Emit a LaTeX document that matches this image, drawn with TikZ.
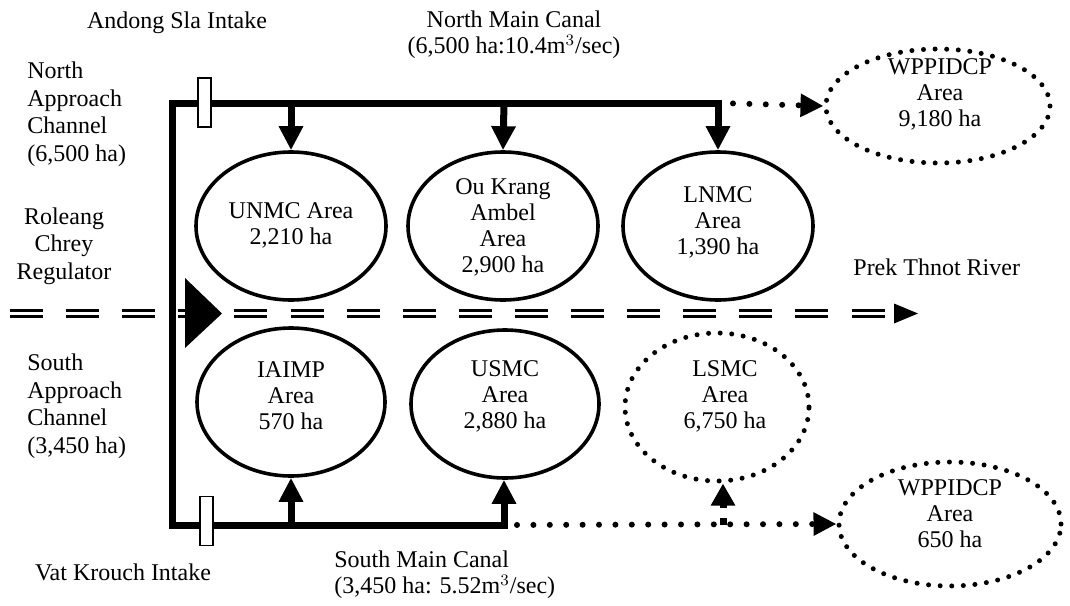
\documentclass[tikz,border=0pt]{standalone}
\usepackage{fontspec}
\setmainfont{Liberation Serif}
\usetikzlibrary{arrows.meta,shapes.geometric}
\tikzset{
  txt/.style={font=\fontsize{12}{13}\selectfont, inner sep=0pt, align=center},
  sidetxt/.style={font=\fontsize{12}{13.75}\selectfont, inner sep=0pt},
  canal/.style={line width=3.5pt, line cap=rect},
  feed/.style={line width=3.5pt, -{Triangle[length=12pt,width=11.5pt]}},
  dashfeed/.style={line width=3.5pt, dash pattern=on 3.5pt off 5pt, -{Triangle[length=11pt,width=11.5pt]}},
  dotflow/.style={line width=3pt, line cap=round, dash pattern=on 0pt off 8.2pt, -{Triangle[length=11.5pt,width=11pt]}},
  area/.style={ellipse, draw, line width=1.8pt, inner sep=0pt},
  dotarea/.style={ellipse, draw, line width=2.5pt, line cap=round, dash pattern=on 0pt off 5.8pt, inner sep=0pt},
  gate/.style={draw, fill=white, line width=0.8pt, minimum width=6.5pt, minimum height=24.5pt, inner sep=0pt},
  river/.style={line width=1.5pt, double distance=1.5pt, dash pattern=on 16.5pt off 11.55pt}
}
\begin{document}
\begin{tikzpicture}[x=0.5pt,y=0.5pt,yscale=-1,xscale=1]
  \useasboundingbox (0,0) rectangle (1070,605);

  % fork points on the canals
  \coordinate (nfork1) at (291,103);
  \coordinate (nfork2) at (504,103);
  \coordinate (nfork3) at (718,103);
  \coordinate (ncorner) at (172,103);
  \coordinate (scorner) at (172,525);
  \coordinate (sfork1) at (291,525);
  \coordinate (sfork2) at (504,525);
  \coordinate (sfork3) at (723,525);

  %Shape: Ellipse areas
  \node (unmc) [area, minimum width=95pt, minimum height=74pt] at (291,226) {};
  \node (oukrang) [area, minimum width=95pt, minimum height=74pt] at (503,226) {};
  \node (lnmc) [area, minimum width=95pt, minimum height=74pt] at (718,226) {};
  \node (iaimp) [area, minimum width=94pt, minimum height=74pt] at (291,402) {};
  \node (usmc) [area, minimum width=94pt, minimum height=74pt] at (505,404) {};
  \node (lsmc) [dotarea, minimum width=92pt, minimum height=74pt] at (717,407) {};
  \node (wppn) [dotarea, minimum width=112pt, minimum height=57pt] at (938,106) {};
  \node (wpps) [dotarea, minimum width=111pt, minimum height=62pt] at (950,524) {};

  % Text Node
  \node (unmctxt) [txt] at (291,225) {UNMC Area\\2,210 ha};
  \node (oukrangtxt) [txt] at (503,227) {Ou Krang\\Ambel\\Area\\2,900 ha};
  \node (lnmctxt) [txt] at (718,222) {LNMC\\Area\\1,390 ha};
  \node (iaimptxt) [txt] at (291,396) {IAIMP\\Area\\570 ha};
  \node (usmctxt) [txt] at (505,396) {USMC\\Area\\2,880 ha};
  \node (lsmctxt) [txt] at (725,396) {LSMC\\Area\\6,750 ha};
  \node (wppntxt) [txt] at (940,94) {WPPIDCP\\Area\\9,180 ha};
  \node (wppstxt) [txt] at (950,514) {WPPIDCP\\Area\\650 ha};

  %Shape: River
  \coordinate (rivstart) at (10,313.5);
  \coordinate (rivend) at (885,313.5);
  \draw [river] (rivstart) -- (rivend);
  \fill (894,303.5) -- (918,313.5) -- (894,323.5) -- cycle;
  % regulator
  \fill (185,278) -- (222,313.5) -- (185,348) -- cycle;

  %Shape: Canals
  \draw [canal] (nfork3) -- (ncorner) -- (scorner) -- (sfork2);
  \node (ngate) [gate] at (204.5,102.5) {};
  \node (sgate) [gate] at (206.5,521) {};

  \draw [feed] (nfork1) -- (unmc.north);
  \draw [feed] (nfork2) -- (oukrang.north);
  \draw [feed] (nfork3) -- (lnmc.north);
  \draw [feed] (sfork1) -- (iaimp.south);
  \draw [feed] (sfork2) -- (sfork2 |- usmc.south);
  \draw [dotflow, shorten <=7.5pt] (nfork3) -- (wppn.west);
  \draw [dotflow, shorten <=6.5pt] (sfork2) -- (wpps.west);
  \draw [dashfeed] (sfork3) -- (sfork3 |- lsmc.south);

  % Text Node
  \node (andong) [txt] at (177,23) {Andong Sla Intake};
  \node (nmc) [txt] at (514,35) {North Main Canal\\(6,500 ha:10.4$\mathrm{m}^{3}$/sec)};
  \node (nac) [sidetxt, anchor=west, align=left] at (27,114) {North\\Approach\\Channel\\(6,500 ha)};
  \node (rcr) [sidetxt, align=center] at (64,246) {Roleang\\Chrey\\Regulator};
  \node (sac) [sidetxt, anchor=west, align=left] at (27,406) {South\\Approach\\Channel\\(3,450 ha)};
  \node (prek) [txt, anchor=west] at (853,267) {Prek Thnot River};
  \node (vat) [txt] at (123,572) {Vat Krouch Intake};
  \node (smc) [txt, anchor=west, align=left] at (334,575) {South Main Canal\\(3,450 ha: 5.52$\mathrm{m}^{3}$/sec)};
\end{tikzpicture}
\end{document}
